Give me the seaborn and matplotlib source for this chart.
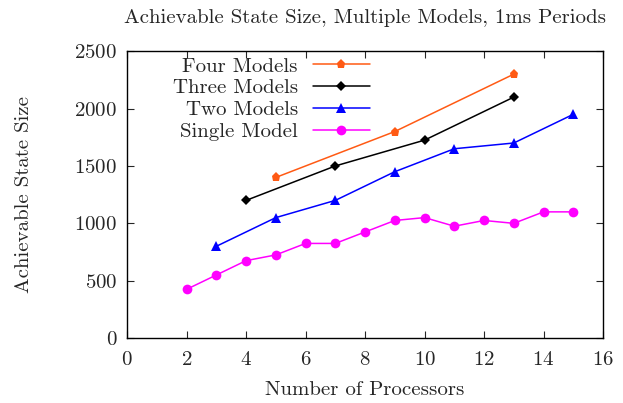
import matplotlib
matplotlib.use("Agg")
import matplotlib.pyplot as plt
import seaborn as sns
import pandas as pd

# ===============================
# Data
# ===============================

four_x = [5, 9, 13]
four_y = [1400, 1800, 2300]

three_x = [4, 7, 10, 13]
three_y = [1200, 1500, 1725, 2100]

two_x = [3, 5, 7, 9, 11, 13, 15]
two_y = [800, 1050, 1200, 1450, 1650, 1700, 1950]

single_x = [2, 3, 4, 5, 6, 7, 8, 9, 10, 11, 12, 13, 14, 15]
single_y = [425, 550, 675, 725, 825, 825, 925, 1025, 1050, 975, 1025, 1000, 1100, 1100]

labels = ["Four Models", "Three Models", "Two Models", "Single Model"]
colors = ["#ff5a14", "#000000", "#0000ff", "#ff00ff"]
markers = ["p", "D", "^", "o"]
sizes = [6.5, 5, 6.5, 7]

# ===============================
# Build table
# ===============================

frames = []
for lab, xs, ys in zip(labels,
                       [four_x, three_x, two_x, single_x],
                       [four_y, three_y, two_y, single_y]):
    frames.append(pd.DataFrame({"Processors": xs, "Size": ys, "Series": lab}))
df = pd.concat(frames, ignore_index=True)

# ===============================
# Plot
# ===============================

sns.set_style("ticks")
plt.rcParams["font.family"] = ["cmr10", "DejaVu Serif"]
plt.rcParams["axes.formatter.use_mathtext"] = True

FS = 15

fig = plt.figure(figsize=(6.23, 4.03), dpi=100)
ax = fig.add_axes([0.204, 0.161, 0.764, 0.712])

for lab, col, mk, ms in zip(labels, colors, markers, sizes):
    sub = df[df["Series"] == lab]
    sns.lineplot(
        data=sub,
        x="Processors",
        y="Size",
        ax=ax,
        color=col,
        marker=mk,
        markersize=ms,
        markeredgewidth=0,
        linewidth=1.1,
        label=lab
    )

ax.set_xlim(0, 16)
ax.set_ylim(0, 2500)
ax.set_xticks(range(0, 17, 2))
ax.set_yticks(range(0, 2501, 500))

ax.tick_params(direction="in", top=True, right=True, length=5,
               width=0.8, labelsize=FS, pad=7)
ax.tick_params(axis="x", pad=9)
for sp in ax.spines.values():
    sp.set_linewidth(1.0)
    sp.set_color("black")

ax.set_xlabel("Number of Processors", fontsize=FS, labelpad=9)
ax.set_ylabel("Achievable State Size", fontsize=FS, labelpad=30)
ax.set_title("Achievable State Size, Multiple Models, 1ms Periods",
             fontsize=FS, pad=20)

ax.legend(loc="upper right", bbox_to_anchor=(0.51, 0.979), frameon=False,
          markerfirst=False, fontsize=FS, handlelength=2.75,
          labelspacing=0.15, borderpad=0.0, borderaxespad=0.0,
          handletextpad=0.7)

fig.savefig("out.png", dpi=100)
